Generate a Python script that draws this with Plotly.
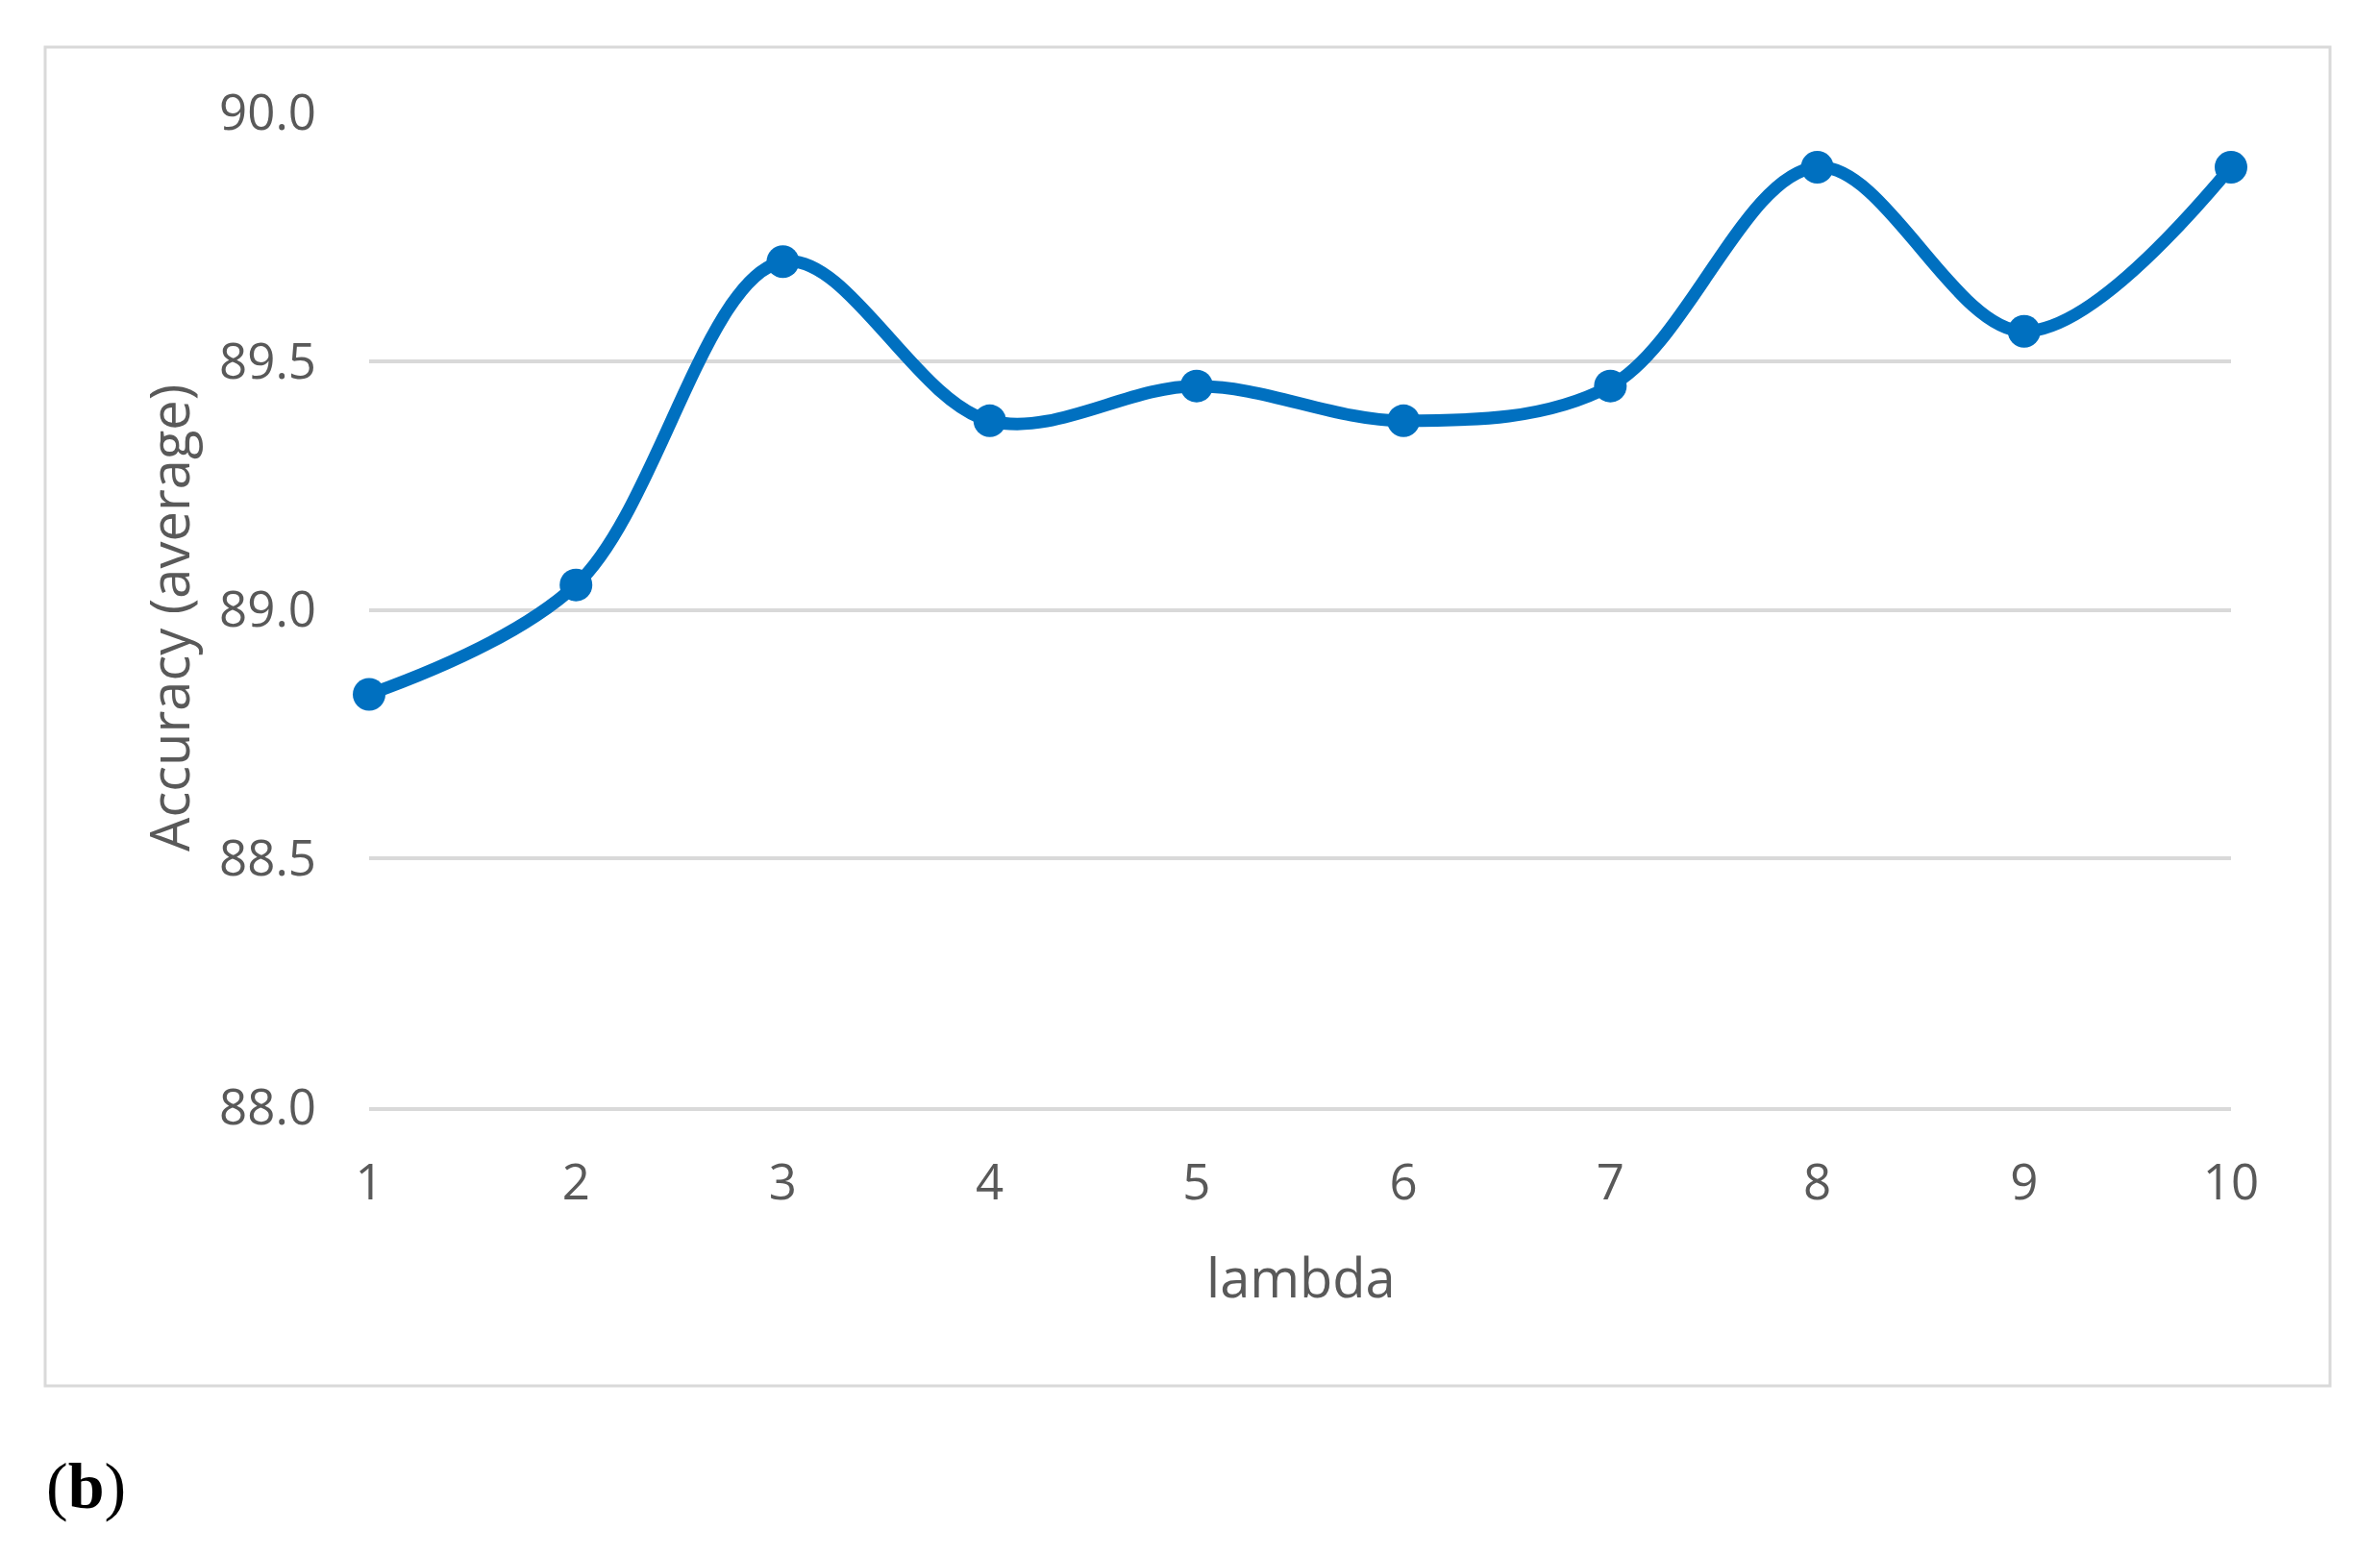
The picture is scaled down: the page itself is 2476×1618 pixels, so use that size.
import plotly.graph_objects as go

lambdas = [1, 2, 3, 4, 5, 6, 7, 8, 9, 10]
accuracy = [88.83, 89.05, 89.70, 89.38, 89.45, 89.38, 89.45, 89.89, 89.56, 89.89]
y_ticks = [88.0, 88.5, 89.0, 89.5, 90.0]
y_tick_labels = ["88.0", "88.5", "89.0", "89.5", "90.0"]

OFF = 8  # page body margin
W, H = 2476 - 2 * OFF, 1618 - 2 * OFF
L, R, T, B = 384 - OFF, 2321 - OFF, 117 - OFF, 1152 - OFF
pw, ph = R - L, B - T

def px(x):
    return (x - OFF - L) / pw

def py(y):
    return (B - (y - OFF)) / ph

fig = go.Figure()
fig.add_trace(go.Scatter(
    x=lambdas, y=accuracy, mode="lines+markers",
    line=dict(color="#0070C0", width=13, shape="spline", smoothing=1.0),
    marker=dict(color="#0070C0", size=34),
    cliponaxis=False, showlegend=False,
))

font_tick = dict(family="Open Sans", size=51, color="#595959")

fig.update_layout(
    width=W, height=H,
    margin=dict(l=L, r=W - R, t=T, b=H - B, autoexpand=False),
    paper_bgcolor="white", plot_bgcolor="white",
    xaxis=dict(range=[1, 10], tickvals=lambdas, ticktext=[str(v) for v in lambdas],
               showgrid=False, zeroline=False, showline=True, linecolor="#D9D9D9", linewidth=4,
               tickfont=font_tick, ticks="", ticklabelstandoff=31),
    yaxis=dict(range=[88, 90], tickvals=y_ticks, ticktext=y_tick_labels,
               showgrid=True, gridcolor="#D9D9D9", gridwidth=4,
               zeroline=False, showline=False,
               tickfont=font_tick, ticks="", ticklabelstandoff=54),
    shapes=[dict(type="rect", xref="paper", yref="paper",
                 x0=px(47), x1=px(2424), y0=py(1442), y1=py(49),
                 line=dict(color="#D9D9D9", width=3), layer="below")],
    annotations=[
        dict(text="lambda", xref="paper", yref="paper", x=px(1353), y=py(1328),
             xanchor="center", yanchor="middle", showarrow=False,
             font=dict(family="Open Sans", size=56, color="#595959")),
        dict(text="Accuracy (average)", xref="paper", yref="paper", x=px(175), y=py(643),
             xanchor="center", yanchor="middle", showarrow=False, textangle=-90,
             font=dict(family="Open Sans", size=56, color="#595959")),
        dict(text="(<b>b</b>)", xref="paper", yref="paper", x=px(46), y=py(1546),
             xanchor="left", yanchor="middle", showarrow=False,
             font=dict(family="Liberation Serif", size=68, color="black")),
    ],
)

fig.write_html("out.html")
